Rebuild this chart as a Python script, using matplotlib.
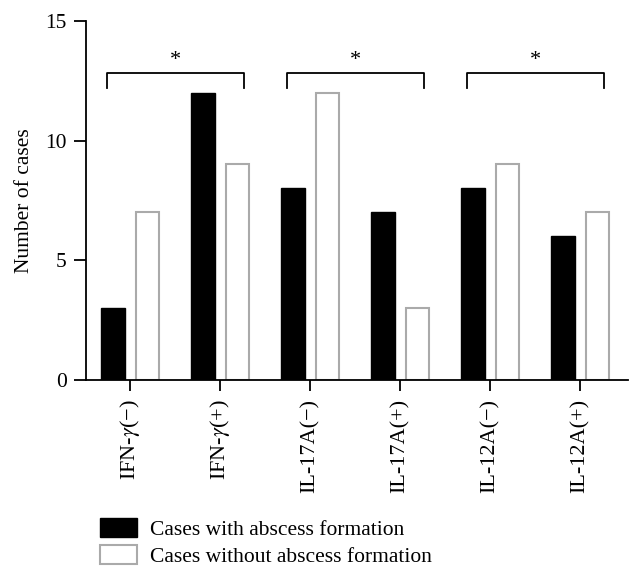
import numpy as np
import matplotlib.pyplot as plt
from matplotlib.patches import Patch

plt.rcParams['font.family'] = ['Liberation Serif', 'DejaVu Serif']
plt.rcParams['mathtext.fontset'] = 'stix'

categories = ['IFN-$\\gamma$(−)', 'IFN-$\\gamma$(+)', 'IL-17A(−)', 'IL-17A(+)', 'IL-12A(−)', 'IL-12A(+)']
with_abscess = [3, 12, 8, 7, 8, 6]
without_abscess = [7, 9, 12, 3, 9, 7]
brackets = [(0, 1), (2, 3), (4, 5)]

fig = plt.figure(figsize=(6.42, 5.79), dpi=100)
ax = fig.add_axes([0.134, 0.344, 0.844, 0.62])

x = np.arange(len(categories))
w = 0.26
ax.bar(x - 0.19, with_abscess, w, color='black', edgecolor='black', linewidth=1)
ax.bar(x + 0.19, without_abscess, w, color='white', edgecolor='#aaaaaa', linewidth=1.5)

# significance brackets
for a, b in brackets:
    x0, x1 = a - 0.256, b + 0.267
    ax.plot([x0, x0, x1, x1], [12.18, 12.8, 12.8, 12.18], color='black', lw=1.3,
            clip_on=False)
    ax.text((x0 + x1) / 2, 12.95, '*', ha='center', va='bottom', fontsize=16)

ax.set_xlim(-0.49, 5.53)
ax.set_ylim(0, 15)
ax.set_yticks([0, 5, 10, 15])
ax.set_xticks(x)
ax.set_xticklabels(categories, rotation=90, fontsize=16)
ax.tick_params(axis='y', labelsize=15.5, length=9, width=1.3, pad=5)
ax.tick_params(axis='x', length=8, width=1.3, pad=6)
ax.set_ylabel('Number of cases', fontsize=15.5, labelpad=8)
for s in ['top', 'right']:
    ax.spines[s].set_visible(False)
for s in ['left', 'bottom']:
    ax.spines[s].set_linewidth(1.3)

handles = [Patch(facecolor='black', edgecolor='black'),
           Patch(facecolor='white', edgecolor='#aaaaaa', linewidth=1.5)]
fig.legend(handles, ['Cases with abscess formation', 'Cases without abscess formation'],
           loc='upper left', bbox_to_anchor=(0.156, 0.106), frameon=False,
           fontsize=15.5, handlelength=1.7, handleheight=1.0, handletextpad=0.6,
           labelspacing=0.25, borderpad=0, borderaxespad=0)

fig.savefig('out.png', dpi=100)
